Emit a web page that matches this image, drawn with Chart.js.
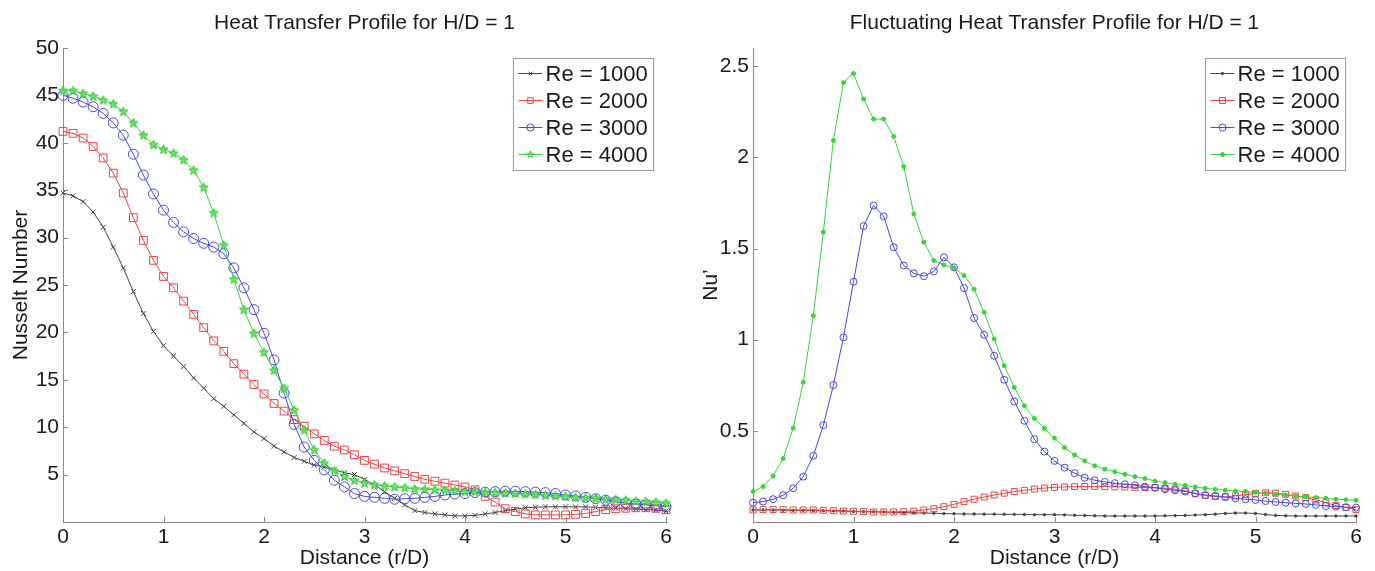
<!DOCTYPE html>
<html><head><meta charset="utf-8">
<script src="https://cdn.jsdelivr.net/npm/chart.js@4.4.1/dist/chart.umd.min.js"></script>
<style>
html,body{margin:0;padding:0;background:#fff;overflow:hidden;}
#wrap{position:relative;width:1375px;height:571px;overflow:hidden;background:#fff;}
.box{position:absolute;top:0;width:729px;height:571px;}
#b1{left:0}
#b2{left:690px}
</style></head><body>
<div id="wrap"><div class="box" id="b1"><canvas id="c1"></canvas></div><div class="box" id="b2"><canvas id="c2"></canvas></div></div>
<script>
// ---------- DATA ----------
const distance = [
  0.0,0.1,0.2,0.3,0.4,0.5,0.6,0.7,0.8,0.9,
  1.0,1.1,1.2,1.3,1.4,1.5,1.6,1.7,1.8,1.9,
  2.0,2.1,2.2,2.3,2.4,2.5,2.6,2.7,2.8,2.9,
  3.0,3.1,3.2,3.3,3.4,3.5,3.6,3.7,3.8,3.9,
  4.0,4.1,4.2,4.3,4.4,4.5,4.6,4.7,4.8,4.9,
  5.0,5.1,5.2,5.3,5.4,5.5,5.6,5.7,5.8,5.9,
  6.0];
const seriesLabels = ['Re = 1000','Re = 2000','Re = 3000','Re = 4000'];

// Left: Nusselt number
const nuRe1000 = [
  34.7,34.4,33.8,32.7,31.1,29.0,26.8,24.3,22.0,20.1,
  18.6,17.5,16.4,15.2,14.1,13.0,12.2,11.3,10.4,9.5,
  8.8,8.0,7.4,6.8,6.4,6.0,5.8,5.5,5.2,5.0,
  4.5,3.9,3.2,2.5,1.8,1.2,1.0,0.85,0.75,0.65,
  0.65,0.7,0.85,1.0,1.2,1.35,1.5,1.55,1.6,1.6,
  1.6,1.6,1.6,1.55,1.5,1.45,1.4,1.35,1.3,1.25,
  1.15];
const nuRe2000 = [
  41.2,41.0,40.5,39.6,38.4,36.8,34.7,32.1,29.7,27.6,
  25.9,24.7,23.3,21.9,20.5,19.1,18.0,16.7,15.6,14.5,
  13.5,12.5,11.7,10.8,10.1,9.3,8.6,8.0,7.6,7.1,
  6.5,6.1,5.7,5.4,5.1,4.8,4.5,4.3,4.1,3.9,
  3.7,3.4,2.7,2.1,1.4,1.1,0.85,0.75,0.75,0.75,
  0.75,0.8,0.9,1.1,1.3,1.4,1.45,1.5,1.5,1.45,
  1.3];
const nuRe3000 = [
  45.0,44.7,44.3,43.8,43.1,42.1,40.8,38.8,36.6,34.6,
  32.9,31.6,30.6,29.9,29.4,29.0,28.3,26.8,24.7,22.4,
  19.9,17.1,13.6,10.3,7.9,6.5,5.5,4.4,3.7,3.0,
  2.7,2.6,2.5,2.4,2.45,2.5,2.6,2.7,2.85,2.95,
  3.0,3.1,3.15,3.2,3.25,3.25,3.2,3.15,3.1,3.0,
  2.85,2.75,2.6,2.45,2.3,2.15,2.0,1.9,1.8,1.7,
  1.6];
const nuRe4000 = [
  45.5,45.5,45.2,44.9,44.5,44.1,43.3,42.1,40.8,39.8,
  39.3,38.9,38.2,37.1,35.3,32.6,29.2,25.6,22.4,19.9,
  17.9,16.0,14.1,11.8,9.7,7.6,6.2,5.4,4.8,4.4,
  4.1,3.9,3.8,3.7,3.6,3.5,3.45,3.4,3.35,3.3,
  3.2,3.2,3.15,3.1,3.05,3.0,2.95,2.9,2.8,2.75,
  2.7,2.6,2.55,2.5,2.4,2.35,2.3,2.2,2.15,2.1,
  2.0];

// Right: fluctuating Nu'
const fluctRe1000 = [
  0.066,0.066,0.066,0.065,0.064,0.064,0.063,0.062,0.061,0.060,
  0.058,0.057,0.056,0.055,0.053,0.052,0.050,0.049,0.048,0.046,
  0.045,0.044,0.044,0.043,0.043,0.042,0.042,0.041,0.040,0.040,
  0.040,0.039,0.037,0.036,0.034,0.033,0.033,0.033,0.033,0.033,
  0.033,0.034,0.035,0.036,0.038,0.040,0.043,0.047,0.049,0.049,
  0.047,0.041,0.036,0.034,0.033,0.033,0.033,0.033,0.033,0.033,
  0.033];
const fluctRe2000 = [
  0.066,0.068,0.068,0.068,0.066,0.066,0.066,0.064,0.062,0.060,
  0.059,0.057,0.055,0.055,0.055,0.057,0.060,0.066,0.073,0.084,
  0.097,0.112,0.125,0.137,0.148,0.158,0.167,0.174,0.181,0.186,
  0.190,0.192,0.194,0.195,0.195,0.194,0.193,0.192,0.190,0.189,
  0.188,0.185,0.180,0.172,0.155,0.145,0.140,0.138,0.143,0.150,
  0.157,0.160,0.158,0.152,0.143,0.134,0.121,0.106,0.090,0.080,
  0.068];
const fluctRe3000 = [
  0.106,0.112,0.125,0.147,0.185,0.249,0.363,0.531,0.751,1.013,
  1.318,1.623,1.736,1.677,1.507,1.407,1.364,1.348,1.375,1.452,
  1.397,1.283,1.119,1.027,0.912,0.780,0.661,0.555,0.454,0.386,
  0.335,0.298,0.268,0.243,0.229,0.220,0.213,0.207,0.202,0.194,
  0.188,0.180,0.174,0.167,0.158,0.148,0.143,0.137,0.130,0.125,
  0.121,0.115,0.110,0.106,0.102,0.099,0.094,0.088,0.084,0.081,
  0.079];
const fluctRe4000 = [
  0.167,0.194,0.253,0.348,0.515,0.766,1.132,1.590,2.093,2.410,
  2.460,2.320,2.210,2.210,2.115,1.950,1.690,1.535,1.434,1.410,
  1.394,1.352,1.277,1.150,1.004,0.857,0.738,0.637,0.568,0.513,
  0.460,0.408,0.368,0.335,0.308,0.290,0.275,0.262,0.249,0.238,
  0.225,0.216,0.207,0.200,0.192,0.185,0.179,0.174,0.170,0.167,
  0.163,0.158,0.152,0.148,0.143,0.138,0.134,0.130,0.125,0.122,
  0.119];

const xTickValues = [0,1,2,3,4,5,6];
const nuTickValues = [5,10,15,20,25,30,35,40,45,50];
const fluctTickValues = [0.5,1,1.5,2,2.5];

// ---------- STYLE ----------
const FONT = "'Liberation Sans', Arial, Helvetica, sans-serif";
const TEXT = '#1a1a1a';
const AXIS = '#8a8a8a';
const lineColors = ['#444444','#ee4444','#4646ee','#33d633'];

function makeStar() {
  const c = document.createElement('canvas');
  c.width = 11; c.height = 11;
  const g = c.getContext('2d');
  g.beginPath();
  for (let i = 0; i < 10; i++) {
    const r = i % 2 === 0 ? 4.8 : 2.1;
    const a = -Math.PI / 2 + i * Math.PI / 5;
    const px = 5.5 + r * Math.cos(a), py = 5.7 + r * Math.sin(a);
    if (i === 0) g.moveTo(px, py); else g.lineTo(px, py);
  }
  g.closePath();
  g.fillStyle = 'rgba(110,220,110,0.95)';
  g.fill();
  g.strokeStyle = '#2ec82e';
  g.lineWidth = 1;
  g.stroke();
  return c;
}
const starImg = makeStar();

function pts(arr) { return distance.map((x, i) => ({x: x, y: arr[i]})); }

function drawMarker(ctx, style, r, x, y, stroke, fill) {
  if (style instanceof HTMLCanvasElement) {
    const w = style.width * 0.8, h = style.height * 0.8;
    ctx.drawImage(style, x - w / 2, y - h / 2, w, h);
    return;
  }
  ctx.beginPath();
  ctx.strokeStyle = stroke; ctx.fillStyle = fill; ctx.lineWidth = 1;
  if (style === 'circle') { ctx.arc(x, y, r, 0, Math.PI * 2); ctx.fill(); ctx.stroke(); }
  else if (style === 'rect') { const s = r * Math.SQRT1_2; ctx.rect(x - s, y - s, 2 * s, 2 * s); ctx.fill(); ctx.stroke(); }
  else if (style === 'crossRot') { const o = r * Math.SQRT1_2; ctx.moveTo(x - o, y - o); ctx.lineTo(x + o, y + o); ctx.moveTo(x - o, y + o); ctx.lineTo(x + o, y - o); ctx.stroke(); }
}

const inwardTicks = {
  id: 'inwardTicks',
  afterDatasetsDraw(chart) {
    const {ctx, chartArea, scales} = chart;
    ctx.save();
    ctx.strokeStyle = AXIS; ctx.lineWidth = 1;
    ctx.beginPath();
    scales.x.ticks.forEach(t => {
      const px = Math.round(scales.x.getPixelForValue(t.value)) + 0.5;
      ctx.moveTo(px, chartArea.bottom); ctx.lineTo(px, chartArea.bottom - 5);
    });
    scales.y.ticks.forEach(t => {
      const py = Math.round(scales.y.getPixelForValue(t.value)) + 0.5;
      ctx.moveTo(chartArea.left, py); ctx.lineTo(chartArea.left + 5, py);
    });
    ctx.stroke();
    ctx.restore();
  }
};

const boxLegend = {
  id: 'boxLegend',
  afterDraw(chart, args, opts) {
    const {ctx, chartArea} = chart;
    const ds = chart.data.datasets;
    ctx.save();
    ctx.font = opts.fontSize + 'px ' + FONT;
    const textW = Math.max(...ds.map(d => ctx.measureText(d.label).width));
    const padL = 5, lineLen = 24, gap = 3, padR = 6, rowH = 27, padT = 15;
    const w = padL + lineLen + gap + textW + padR;
    const h = padT + rowH * (ds.length - 1) + 16;
    const right = chartArea.right - opts.right;
    const left = Math.round(right - w) + 0.5;
    const top = Math.round(chartArea.top + opts.top) + 0.5;
    ctx.fillStyle = '#fff';
    ctx.fillRect(left, top, w, h);
    ctx.strokeStyle = '#9a9a9a'; ctx.lineWidth = 1;
    ctx.strokeRect(left, top, w, h);
    ds.forEach((d, i) => {
      const cy = top + padT + i * rowH;
      const x0 = left + padL;
      ctx.beginPath();
      ctx.strokeStyle = d.borderColor; ctx.lineWidth = 1;
      ctx.moveTo(x0, cy); ctx.lineTo(x0 + lineLen, cy); ctx.stroke();
      drawMarker(ctx, d.pointStyle, d.pointRadius * opts.markerScale, x0 + lineLen / 2, cy, d.pointBorderColor, d.pointBackgroundColor);
      ctx.fillStyle = TEXT;
      ctx.textBaseline = 'middle'; ctx.textAlign = 'left';
      ctx.font = opts.fontSize + 'px ' + FONT;
      ctx.fillText(d.label, x0 + lineLen + gap, cy + 1);
    });
    ctx.restore();
  }
};

function makeDatasets(series, styles, radii, fills) {
  return series.map((arr, i) => ({
    label: seriesLabels[i],
    data: pts(arr),
    borderColor: lineColors[i],
    backgroundColor: lineColors[i],
    borderWidth: 1,
    pointStyle: styles[i],
    pointRadius: radii[i],
    pointBorderColor: lineColors[i],
    pointBackgroundColor: fills[i],
    pointBorderWidth: 1,
    tension: 0,
    clip: false,
    order: 4 - i
  }));
}

function makeChart(id, datasets, cfg) {
  const tickFont = {family: FONT, size: 21};
  return new Chart(document.getElementById(id), {
    type: 'line',
    data: {datasets: datasets},
    options: {
      responsive: true, maintainAspectRatio: false, animation: false,
      devicePixelRatio: 1,
      layout: {padding: {left: 0, right: 63, top: 0, bottom: 0}},
      plugins: {
        legend: {display: false},
        tooltip: {enabled: false},
        title: {display: true, fullSize: false, text: cfg.title, color: TEXT,
          font: {family: FONT, size: 21, weight: 'normal'},
          padding: {top: 11, bottom: 11.8}},
        boxLegend: {right: cfg.legendRight, top: 10, fontSize: 22, markerScale: cfg.markerScale}
      },
      scales: {
        x: {
          type: 'linear', min: 0, max: 6,
          afterBuildTicks: s => { s.ticks = xTickValues.map(v => ({value: v})); },
          afterFit: s => { s.height = 49; },
          grid: {display: false, drawTicks: false},
          border: {display: true, color: AXIS, width: 1},
          ticks: {padding: 3, font: tickFont, color: TEXT, maxRotation: 0, autoSkip: false, callback: v => String(v)},
          title: {display: true, text: 'Distance (r/D)', color: TEXT, font: {family: FONT, size: 21}, padding: {top: 0, bottom: 0}}
        },
        y: {
          type: 'linear', min: cfg.yMin, max: cfg.yMax,
          afterBuildTicks: s => { s.ticks = cfg.yTicks.map(v => ({value: v})); },
          afterFit: s => { s.width = 63; },
          grid: {display: false, drawTicks: false},
          border: {display: true, color: AXIS, width: 1},
          ticks: {padding: 4, font: tickFont, color: TEXT, autoSkip: false, callback: v => String(v)},
          title: {display: true, text: cfg.yTitle, color: TEXT, font: {family: FONT, size: 21}, padding: {top: 9, bottom: 0}}
        }
      }
    },
    plugins: [inwardTicks, boxLegend]
  });
}

makeChart('c1',
  makeDatasets([nuRe1000, nuRe2000, nuRe3000, nuRe4000],
    ['crossRot', 'rect', 'circle', starImg],
    [3.5, 5.5, 5, 5],
    ['rgba(0,0,0,0)', 'rgba(0,0,0,0)', 'rgba(0,0,0,0)', 'rgba(0,0,0,0)']),
  {title: 'Heat Transfer Profile for H/D = 1', yTitle: 'Nusselt Number', yMin: 0, yMax: 50,
   yTicks: nuTickValues, legendRight: 13, markerScale: 0.72});

makeChart('c2',
  makeDatasets([fluctRe1000, fluctRe2000, fluctRe3000, fluctRe4000],
    ['circle', 'rect', 'circle', 'circle'],
    [1.2, 4.2, 3.5, 2],
    [lineColors[0], 'rgba(0,0,0,0)', 'rgba(0,0,0,0)', lineColors[3]]),
  {title: 'Fluctuating Heat Transfer Profile for H/D = 1', yTitle: 'Nu\u2019', yMin: 0, yMax: 2.6,
   yTicks: fluctTickValues, legendRight: 11, markerScale: 1});
</script>
</body></html>
